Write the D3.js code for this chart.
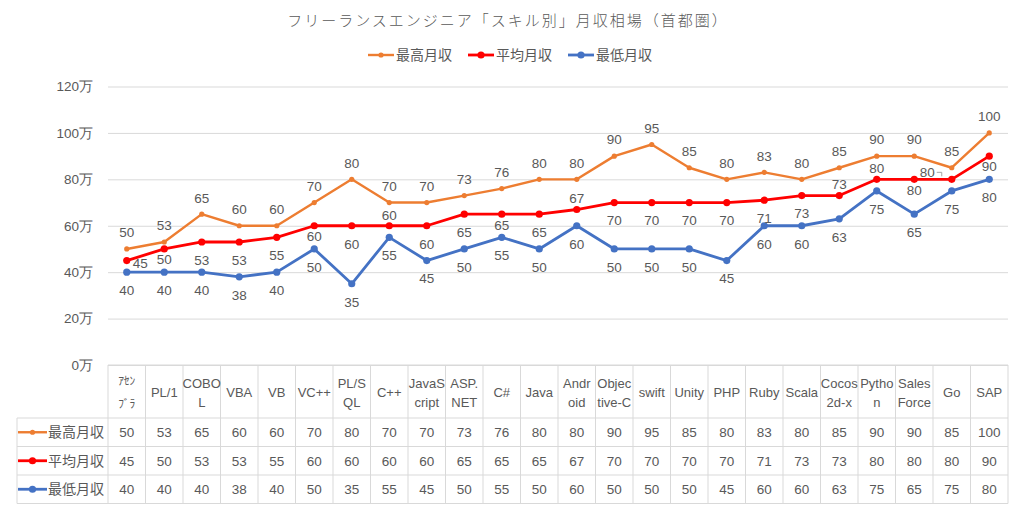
<!DOCTYPE html>
<html><head><meta charset="utf-8">
<script src="https://cdn.jsdelivr.net/npm/d3@7"></script>
<style>
html,body{margin:0;padding:0;background:#fff;}
svg{display:block;}
</style></head>
<body>
<svg id="chart" width="1020" height="508"></svg>
<script>
// ---- data ----
const categories = ["ｱｾﾝﾌﾞﾗ","PL/1","COBOL","VBA","VB","VC++","PL/SQL","C++","JavaScript","ASP.NET","C#","Java","Android","Objective-C","swift","Unity","PHP","Ruby","Scala","Cocos2d-x","Python","SalesForce","Go","SAP"];
const headerLabels = [["ｱｾﾝ","ﾌﾞﾗ"],["PL/1"],["COBO","L"],["VBA"],["VB"],["VC++"],["PL/S","QL"],["C++"],["JavaS","cript"],["ASP.","NET"],["C#"],["Java"],["Andr","oid"],["Objec","tive-C"],["swift"],["Unity"],["PHP"],["Ruby"],["Scala"],["Cocos","2d-x"],["Pytho","n"],["Sales","Force"],["Go"],["SAP"]];
const seriesNames = ["最高月収","平均月収","最低月収"];
const maxIncome = [50,53,65,60,60,70,80,70,70,73,76,80,80,90,95,85,80,83,80,85,90,90,85,100];
const avgIncome = [45,50,53,53,55,60,60,60,60,65,65,65,67,70,70,70,70,71,73,73,80,80,80,90];
const minIncome = [40,40,40,38,40,50,35,55,45,50,55,50,60,50,50,50,45,60,60,63,75,65,75,80];
const yTicks = [0,20,40,60,80,100,120];
const titleText = "フリーランスエンジニア「スキル別」月収相場（首都圏）";

// label placement for the average series (a=above, b=below, n=near below, r=right, l=left)
const avgLabelPlace = ["r","n","b","b","b","n","b","a","b","b","n","b","a","b","b","b","b","b","b","a","a","n","l","n"];

(function(){
const colors = ["#ED7D31","#FF0000","#4472C4"];
const markerR = [2.6,3.6,3.6];
const lineW = [2.4,2.8,2.8];
const series = [maxIncome, avgIncome, minIncome];

const svg = d3.select("#chart");
const TXT = "#595959";
const GRID = "#D9D9D9";
const numFont = "'Liberation Sans', Arial, sans-serif";
const jpFont = "'Noto Sans CJK JP', sans-serif";

const pLeft = 108, pRight = 1008, pTop = 86.5, pBottom = 365;
const x = d3.scaleBand().domain(categories).range([pLeft, pRight]);
const y = d3.scaleLinear().domain([0,120]).range([pBottom, pTop]);
const cx = c => x(c) + x.bandwidth()/2;

// title
svg.append("text").attr("x", 508).attr("y", 26).attr("text-anchor","middle")
  .attr("font-family", jpFont).attr("font-size", 15).attr("font-weight", 300).attr("letter-spacing", 2)
  .attr("fill", TXT).text(titleText);

// legend
seriesNames.forEach((n,i) => {
  const g = svg.append("g").attr("transform", `translate(${368 + i*100},55)`);
  g.append("line").attr("x1",0).attr("x2",26).attr("y1",0).attr("y2",0)
    .attr("stroke", colors[i]).attr("stroke-width", lineW[i]);
  g.append("circle").attr("cx",13).attr("cy",0).attr("r",markerR[i]).attr("fill",colors[i]);
  g.append("text").attr("x",28).attr("y",5).attr("font-family",jpFont).attr("font-size",14)
    .attr("fill",TXT).text(n);
});

// y axis with gridlines
const yAxis = d3.axisLeft(y).tickValues(yTicks).tickFormat(d => d + "万")
  .tickSize(-(pRight-pLeft)).tickPadding(15);
const ga = svg.append("g").attr("transform", `translate(${pLeft},0)`).call(yAxis);
ga.select(".domain").remove();
ga.selectAll(".tick line").attr("stroke", GRID).attr("stroke-width", 1);
ga.selectAll(".tick text").attr("fill", TXT).attr("font-size", 13.5).attr("font-family", numFont);

// lines & markers
series.forEach((vals,i) => {
  const line = d3.line().x((d,j) => cx(categories[j])).y(d => y(d));
  svg.append("path").datum(vals).attr("d", line).attr("fill","none")
    .attr("stroke", colors[i]).attr("stroke-width", lineW[i]).attr("stroke-linejoin","round");
  svg.selectAll(null).data(vals).enter().append("circle")
    .attr("cx",(d,j)=>cx(categories[j])).attr("cy",d=>y(d)).attr("r",markerR[i]).attr("fill",colors[i]);
});

// data labels
function addLabel(px, py, t, anchor){
  svg.append("text").attr("x",px).attr("y",py).attr("dy","0.36em").attr("text-anchor",anchor||"middle")
    .attr("font-family",numFont).attr("font-size",13.5).attr("fill",TXT).text(t);
}
maxIncome.forEach((d,j)=> addLabel(cx(categories[j]), y(d)-16.5, d));
minIncome.forEach((d,j)=> addLabel(cx(categories[j]), y(d)+18, d));
avgIncome.forEach((d,j)=>{
  const px = cx(categories[j]), py = y(d), p = avgLabelPlace[j];
  if (p==="a") addLabel(px, py-11, d);
  else if (p==="b") addLabel(px, py+18, d);
  else if (p==="n") addLabel(px, py+10.5, d);
  else if (p==="r") addLabel(px+6, py+2.5, d, "start");
  else if (p==="l") {
    addLabel(px-17, py-7, d, "end");
    svg.append("path").attr("d",`M${px-15},${py-7}H${px-10}V${py-3}`).attr("fill","none")
      .attr("stroke","#A6A6A6").attr("stroke-width",1);
  }
});

// data table
const rowH = 28.5, headBottom = 418;
const rowsY = [headBottom, headBottom+rowH, headBottom+2*rowH, headBottom+3*rowH];
const tbl = svg.append("g");
tbl.append("line").attr("x1",pLeft).attr("x2",pRight).attr("y1",pBottom).attr("y2",pBottom).attr("stroke",GRID);
rowsY.forEach(ry => tbl.append("line").attr("x1",17).attr("x2",pRight).attr("y1",ry).attr("y2",ry).attr("stroke",GRID));
tbl.append("line").attr("x1",17).attr("x2",17).attr("y1",headBottom).attr("y2",rowsY[3]).attr("stroke",GRID);
categories.forEach(c => tbl.append("line").attr("x1",x(c)).attr("x2",x(c)).attr("y1",pBottom).attr("y2",rowsY[3]).attr("stroke",GRID));
tbl.append("line").attr("x1",pRight).attr("x2",pRight).attr("y1",pBottom).attr("y2",rowsY[3]).attr("stroke",GRID);

// header labels
headerLabels.forEach((lines,j) => {
  const px = cx(categories[j]);
  const small = j===0;
  const ys = lines.length===1 ? [392] : (small ? [381,404] : [383,402.5]);
  lines.forEach((ln,k) => {
    tbl.append("text").attr("x",px).attr("y",ys[k]).attr("dy","0.36em").attr("text-anchor","middle")
      .attr("font-family", small ? jpFont : numFont).attr("font-size", small ? 11.5 : 13)
      .attr("fill",TXT).text(ln);
  });
});

// rows
series.forEach((vals,i) => {
  const ry = rowsY[i] + rowH/2;
  tbl.append("line").attr("x1",18).attr("x2",47).attr("y1",ry).attr("y2",ry)
    .attr("stroke",colors[i]).attr("stroke-width",lineW[i]);
  tbl.append("circle").attr("cx",32.5).attr("cy",ry).attr("r",markerR[i]).attr("fill",colors[i]);
  tbl.append("text").attr("x",48).attr("y",ry).attr("dy","0.36em").attr("font-family",jpFont)
    .attr("font-size",14).attr("fill",TXT).text(seriesNames[i]);
  vals.forEach((d,j) => {
    tbl.append("text").attr("x",cx(categories[j])).attr("y",ry).attr("dy","0.36em").attr("text-anchor","middle")
      .attr("font-family",numFont).attr("font-size",13.5).attr("fill",TXT).text(d);
  });
});
})();
</script>
</body></html>
